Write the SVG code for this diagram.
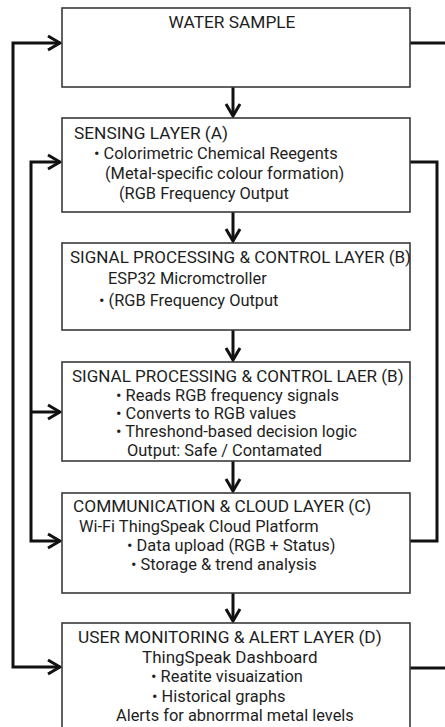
<svg xmlns="http://www.w3.org/2000/svg" width="445" height="727" viewBox="0 0 445 727">
<style>
.box{fill:#fff;stroke:#3a3a3a;stroke-width:1.6}
.t{font-family:Roboto,"Liberation Sans",Arial,sans-serif;font-size:16.4px;fill:#1e1e1e}
.h{font-size:17.3px}
.s{font-size:17px}
.c{text-anchor:middle}
.w{fill:none;stroke:#111;stroke-width:3;stroke-linejoin:miter}
</style>
<defs>
<marker id="ah" viewBox="-15 -9 17 18" refX="0" refY="0" markerWidth="17" markerHeight="18" markerUnits="userSpaceOnUse" orient="auto-start-reverse">
<path d="M-12,-7 L0,0 L-12,7" fill="none" stroke="#111" stroke-width="3"/>
</marker>
</defs>
<rect width="445" height="727" fill="#fff"/>
<g id="connectors">
<path class="w" d="M60,43 H13 V667 H60" marker-start="url(#ah)" marker-end="url(#ah)"/>
<path class="w" d="M60,162 H31 V541 H60" marker-start="url(#ah)" marker-end="url(#ah)"/>
<path class="w" d="M31,412 H60" marker-end="url(#ah)"/>
<path class="w" d="M410,162 H437 V541 H410"/>
<path class="w" d="M410,43 H447"/>
<path class="w" d="M410,668 H447"/>
<path class="w" d="M233,87 V116" marker-end="url(#ah)"/>
<path class="w" d="M233,212 V241" marker-end="url(#ah)"/>
<path class="w" d="M233,330 V360" marker-end="url(#ah)"/>
<path class="w" d="M233,461 V491" marker-end="url(#ah)"/>
<path class="w" d="M233,593 V621" marker-end="url(#ah)"/>
</g>
<g id="water-sample">
<rect class="box" x="62" y="8" width="348" height="79"/>
<text class="t h c" x="232" y="28">WATER SAMPLE</text>
</g>
<g id="sensing-layer">
<rect class="box" x="62" y="118" width="348" height="94"/>
<text class="t h" x="74" y="139">SENSING LAYER (A)</text>
<text class="t" x="94" y="159">• Colorimetric Chemical Reegents</text>
<text class="t" x="105" y="179">(Metal-specific colour formation)</text>
<text class="t" x="119" y="199">(RGB Frequency Output</text>
</g>
<g id="signal-processing-1">
<rect class="box" x="62" y="243" width="348" height="87"/>
<text class="t s" x="70" y="263">SIGNAL PROCESSING &amp; CONTROL LAYER (B)</text>
<text class="t" x="108" y="284">ESP32 Micromctroller</text>
<text class="t" x="99" y="306">• (RGB Frequency Output</text>
</g>
<g id="signal-processing-2">
<rect class="box" x="62" y="362" width="348" height="99"/>
<text class="t s" x="72" y="382">SIGNAL PROCESSING &amp; CONTROL LAER (B)</text>
<text class="t" x="116" y="401">• Reads RGB frequency signals</text>
<text class="t" x="116" y="419">• Converts to RGB values</text>
<text class="t" x="116" y="437">• Threshond-based decision logic</text>
<text class="t" x="127" y="456">Output: Safe / Contamated</text>
</g>
<g id="communication-cloud">
<rect class="box" x="62" y="493" width="348" height="100"/>
<text class="t h" x="73" y="512">COMMUNICATION &amp; CLOUD LAYER (C)</text>
<text class="t" x="79" y="532">Wi-Fi ThingSpeak Cloud Platform</text>
<text class="t" x="127" y="551">• Data upload (RGB + Status)</text>
<text class="t" x="131" y="570">• Storage &amp; trend analysis</text>
</g>
<g id="user-monitoring">
<rect class="box" x="62" y="623" width="348" height="120"/>
<text class="t h" x="78" y="643">USER MONITORING &amp; ALERT LAYER (D)</text>
<text class="t s" x="142" y="663">ThingSpeak Dashboard</text>
<text class="t" x="151" y="682">• Reatite visuaization</text>
<text class="t" x="152" y="702">• Historical graphs</text>
<text class="t" x="116" y="721">Alerts for abnorrmal metal levels</text>
</g>
</svg>
